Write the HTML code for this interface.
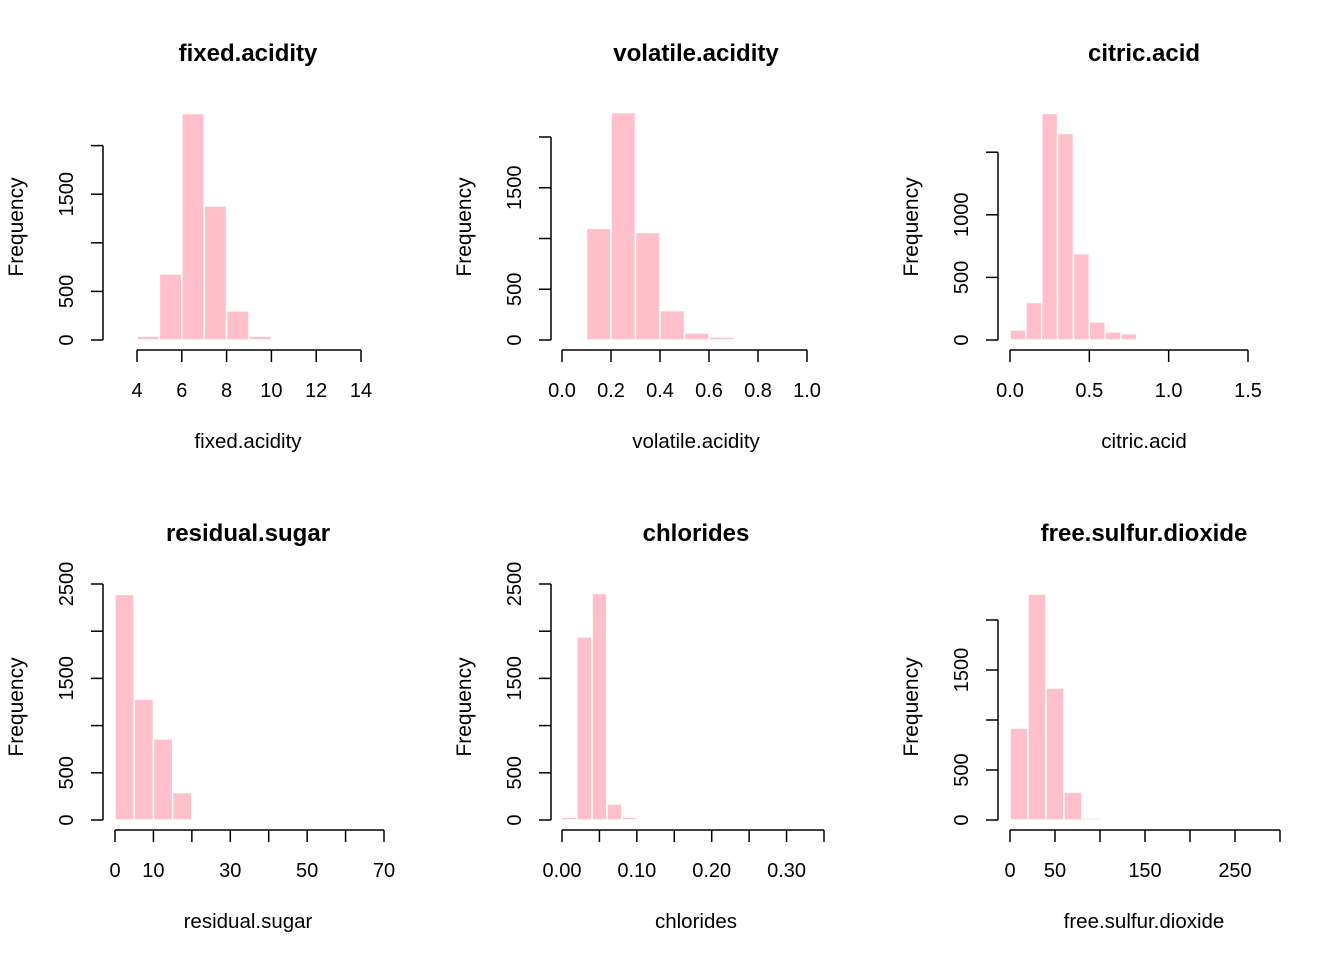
<!DOCTYPE html>
<html><head><meta charset="utf-8"><style>
html,body{margin:0;padding:0;background:#fff}
svg{display:block;font-family:"Liberation Sans",Arial,sans-serif}
</style></head><body>
<svg id="c" width="1344" height="960"></svg>
<script>
// Data arrays
const faBreaks=[4,5,6,7,8,9,10]; const faCounts=[40,680,2330,1380,300,40];
const vaBreaks=[0.1,0.2,0.3,0.4,0.5,0.6,0.7]; const vaCounts=[1100,2240,1060,290,70,30];
const caBreaks=[0,0.1,0.2,0.3,0.4,0.5,0.6,0.7,0.8]; const caCounts=[80,300,1810,1650,690,145,65,50];
const rsBreaks=[0,5,10,15,20]; const rsCounts=[2390,1280,860,290];
const clBreaks=[0,0.02,0.04,0.06,0.08,0.1]; const clCounts=[30,1940,2400,170,30];
const fsBreaks=[0,20,40,60,80,100]; const fsCounts=[920,2260,1320,280,20];
const faXTicks=[4,6,8,10,12,14]; const faXLabels=["4","6","8","10","12","14"];
const vaXTicks=[0,0.2,0.4,0.6,0.8,1.0]; const vaXLabels=["0.0","0.2","0.4","0.6","0.8","1.0"];
const caXTicks=[0,0.5,1.0,1.5]; const caXLabels=["0.0","0.5","1.0","1.5"];
const rsXTicks=[0,10,20,30,40,50,60,70]; const rsXLabels=["0","10","","30","","50","","70"];
const clXTicks=[0,0.05,0.1,0.15,0.2,0.25,0.3,0.35]; const clXLabels=["0.00","","0.10","","0.20","","0.30",""];
const fsXTicks=[0,50,100,150,200,250,300]; const fsXLabels=["0","50","","150","","250",""];
const faYTicks=[0,500,1000,1500,2000]; const faYLabels=["0","500","","1500",""];
const vaYTicks=[0,500,1000,1500,2000]; const vaYLabels=["0","500","","1500",""];
const caYTicks=[0,500,1000,1500]; const caYLabels=["0","500","1000",""];
const rsYTicks=[0,500,1000,1500,2000,2500]; const rsYLabels=["0","500","","1500","","2500"];
const clYTicks=[0,500,1000,1500,2000,2500]; const clYLabels=["0","500","","1500","","2500"];
const fsYTicks=[0,500,1000,1500,2000]; const fsYLabels=["0","500","","1500",""];

const panels=[
 {name:"fixed.acidity",b:faBreaks,c:faCounts,xt:faXTicks,xl:faXLabels,yt:faYTicks,yl:faYLabels,x0:137,x1:361,xmin:4,xmax:14,ybase:340,ppu:0.0972,yax:103,cx:248,top:0},
 {name:"volatile.acidity",b:vaBreaks,c:vaCounts,xt:vaXTicks,xl:vaXLabels,yt:vaYTicks,yl:vaYLabels,x0:562,x1:807,xmin:0,xmax:1,ybase:340,ppu:0.1015,yax:551,cx:696,top:0},
 {name:"citric.acid",b:caBreaks,c:caCounts,xt:caXTicks,xl:caXLabels,yt:caYTicks,yl:caYLabels,x0:1010,x1:1248,xmin:0,xmax:1.5,ybase:340,ppu:0.1252,yax:998,cx:1144,top:0},
 {name:"residual.sugar",b:rsBreaks,c:rsCounts,xt:rsXTicks,xl:rsXLabels,yt:rsYTicks,yl:rsYLabels,x0:115,x1:384,xmin:0,xmax:70,ybase:820,ppu:0.0944,yax:103,cx:248,top:480},
 {name:"chlorides",b:clBreaks,c:clCounts,xt:clXTicks,xl:clXLabels,yt:clYTicks,yl:clYLabels,x0:562,x1:824,xmin:0,xmax:0.35,ybase:820,ppu:0.0944,yax:551,cx:696,top:480},
 {name:"free.sulfur.dioxide",b:fsBreaks,c:fsCounts,xt:fsXTicks,xl:fsXLabels,yt:fsYTicks,yl:fsYLabels,x0:1010,x1:1280,xmin:0,xmax:300,ybase:820,ppu:0.1,yax:998,cx:1144,top:480}
];
const svg=document.getElementById('c');
const NS="http://www.w3.org/2000/svg";
function mk(t,a,p){const e=document.createElementNS(NS,t);for(const k in a)e.setAttribute(k,a[k]);(p||svg).appendChild(e);return e;}
panels.forEach(p=>{
 const g=mk('g',{});
 
 
 const sx=v=>p.x0+(v-p.xmin)/(p.xmax-p.xmin)*(p.x1-p.x0);
 const sy=v=>p.ybase-v*p.ppu;
 for(let i=0;i<p.c.length;i++){
  const x=sx(p.b[i]),w=sx(p.b[i+1])-x,y=sy(p.c[i]);
  const r=mk('rect',{x:x,y:y,width:w,height:p.ybase-y,fill:'#FFC0CB',stroke:'#fff','stroke-width':1.5},g);
  
  
 }
 const xa=p.ybase+10;
 const xaxis=mk('g',{},g);
 
 
 mk('line',{x1:sx(p.xt[0]),x2:sx(p.xt[p.xt.length-1]),y1:xa,y2:xa,stroke:'#000','stroke-width':1.5},xaxis);
 p.xt.forEach((v,i)=>{
  mk('line',{x1:sx(v),x2:sx(v),y1:xa,y2:xa+12,stroke:'#000','stroke-width':1.5},xaxis);
  if(p.xl[i]){const t=mk('text',{x:sx(v),y:xa+47,'font-size':20,'text-anchor':'middle'},xaxis);t.textContent=p.xl[i];}
 });
 const yaxis=mk('g',{},g);
 
 
 mk('line',{x1:p.yax,x2:p.yax,y1:sy(p.yt[0]),y2:sy(p.yt[p.yt.length-1]),stroke:'#000','stroke-width':1.5},yaxis);
 p.yt.forEach((v,i)=>{
  mk('line',{x1:p.yax,x2:p.yax-12,y1:sy(v),y2:sy(v),stroke:'#000','stroke-width':1.5},yaxis);
  if(p.yl[i]){const tx=p.yax-30;const t=mk('text',{x:tx,y:sy(v),'font-size':20,'text-anchor':'middle',transform:`rotate(-90 ${tx} ${sy(v)})`},yaxis);t.textContent=p.yl[i];}
 });
 const tt=mk('text',{x:p.cx,y:p.top+61,'font-size':24,'font-weight':'bold','text-anchor':'middle'},g);
 tt.textContent=p.name;
 
 
 const xl=mk('text',{x:p.cx,y:p.top+448,'font-size':20.5,'text-anchor':'middle'},g);
 xl.textContent=p.name;
 
 
 const yx=p.yax-80, yy=p.top+227;
 const yl=mk('text',{x:yx,y:yy,'font-size':21,'text-anchor':'middle',transform:`rotate(-90 ${yx} ${yy})`},g);
 yl.textContent='Frequency';
 
 
});
</script>
</body></html>
